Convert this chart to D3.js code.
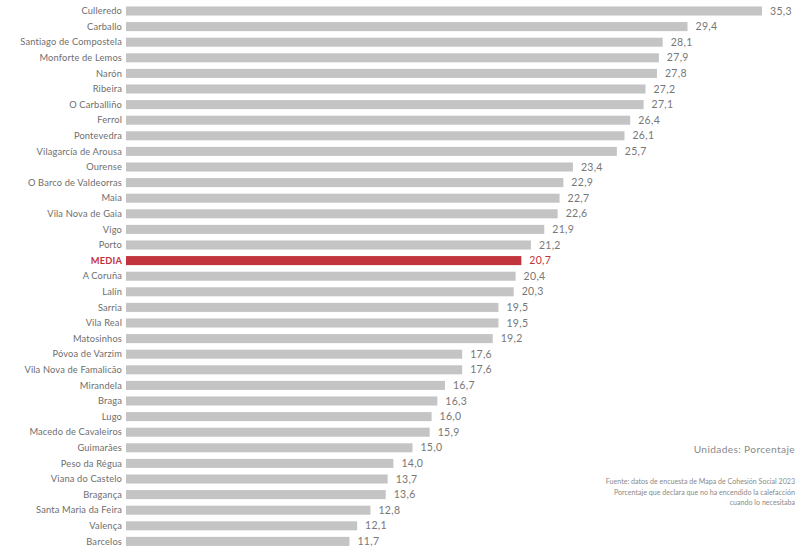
<!DOCTYPE html>
<html>
<head>
<meta charset="utf-8">
<script src="https://cdn.jsdelivr.net/npm/d3@7"></script>
<style>
  html, body { margin: 0; padding: 0; background: #fff; }
  svg { display: block; font-family: Lato, "Open Sans", sans-serif; }
</style>
</head>
<body>
<svg id="chart" width="797" height="549"></svg>
<script>
const categories = ["Culleredo","Carballo","Santiago de Compostela","Monforte de Lemos","Narón","Ribeira","O Carballiño","Ferrol","Pontevedra","Vilagarcía de Arousa","Ourense","O Barco de Valdeorras","Maia","Vila Nova de Gaia","Vigo","Porto","MEDIA","A Coruña","Lalín","Sarria","Vila Real","Matosinhos","Póvoa de Varzim","Vila Nova de Famalicão","Mirandela","Braga","Lugo","Macedo de Cavaleiros","Guimarães","Peso da Régua","Viana do Castelo","Bragança","Santa Maria da Feira","Valença","Barcelos"];
const values = [35.3,29.4,28.1,27.9,27.8,27.2,27.1,26.4,26.1,25.7,23.4,22.9,22.7,22.6,21.9,21.2,20.7,20.4,20.3,19.5,19.5,19.2,17.6,17.6,16.7,16.3,16.0,15.9,15.0,14.0,13.7,13.6,12.8,12.1,11.7];
const highlight = "MEDIA";
const unitsNote = "Unidades: Porcentaje";
const sourceNote = ["Fuente: datos de encuesta de Mapa de Cohesión Social 2023","Porcentaje que declara que no ha encendido la calefacción","cuando lo necesitaba"];

const data = categories.map((c, i) => ({ name: c, value: values[i] }));
const svg = d3.select("#chart");

// the longest bar is capped in the original graphic
const x = d3.scaleLinear().domain([0, 33.3]).range([126, 762]).clamp(true);
const y = d3.scaleBand().domain(categories).range([3.2, 549.2]).paddingInner(0.42).paddingOuter(0.21);

const grey = "#c4c4c4", red = "#c1343d";

svg.append("g").selectAll("rect").data(data).join("rect")
  .attr("x", x(0))
  .attr("y", d => y(d.name))
  .attr("width", d => x(d.value) - x(0))
  .attr("height", y.bandwidth())
  .attr("fill", d => d.name === highlight ? red : grey);

svg.append("g").selectAll("text").data(data).join("text")
  .attr("x", x(0) - 4)
  .attr("y", d => y(d.name) + y.bandwidth() / 2)
  .attr("dy", "0.35em")
  .attr("text-anchor", "end")
  .attr("font-size", 9.3)
  .attr("letter-spacing", 0.15)
  .attr("font-weight", d => d.name === highlight ? "bold" : "normal")
  .attr("fill", d => d.name === highlight ? red : "#6e6e6e")
  .text(d => d.name);

svg.append("g").selectAll("text").data(data).join("text")
  .attr("x", d => x(d.value) + 8)
  .attr("y", d => y(d.name) + y.bandwidth() / 2)
  .attr("dy", "0.35em")
  .attr("font-size", 10.5)
  .attr("letter-spacing", 0.3)
  .attr("fill", d => d.name === highlight ? red : "#777")
  .text(d => d3.format(".1f")(d.value).replace(".", ","));

svg.append("text")
  .attr("x", 795).attr("y", 453)
  .attr("text-anchor", "end")
  .attr("font-size", 10.2)
  .attr("letter-spacing", 0.35)
  .attr("fill", "#8a8a8a")
  .text(unitsNote);

svg.append("g").selectAll("text").data(sourceNote).join("text")
  .attr("x", 795)
  .attr("y", (d, i) => 484 + i * 10.5)
  .attr("text-anchor", "end")
  .attr("font-size", 7.1)
  .attr("fill", "#8a8a8a")
  .text(d => d);
</script>
</body>
</html>
